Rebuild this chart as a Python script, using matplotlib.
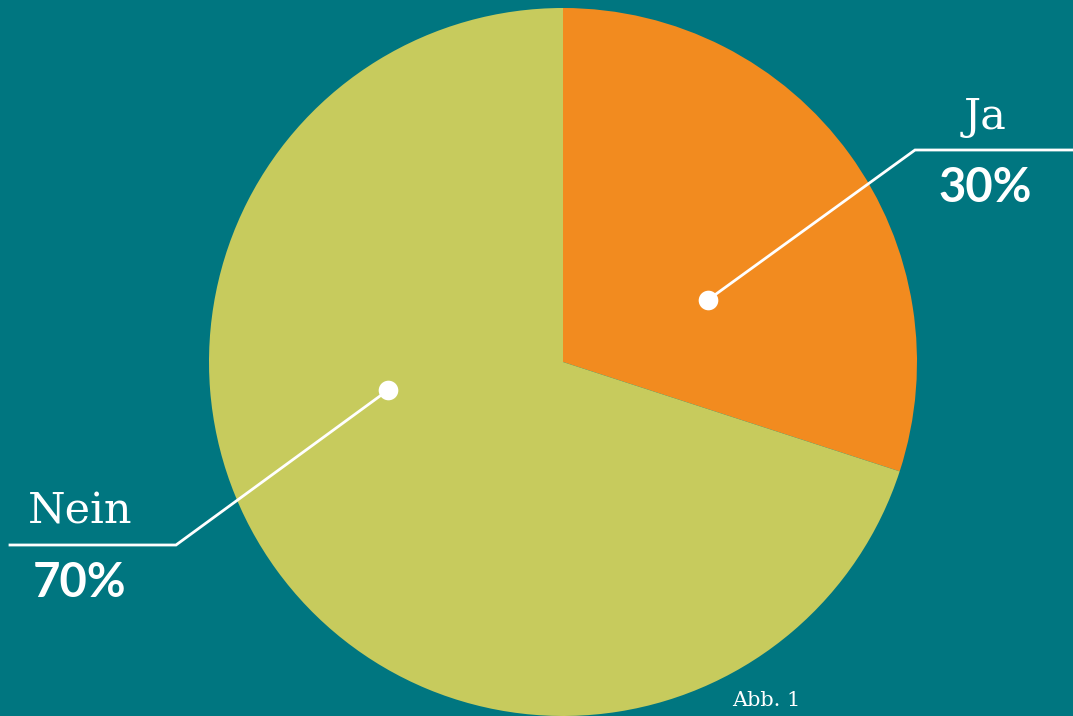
import numpy as np
import matplotlib.pyplot as plt

labels = ['Ja', 'Nein']
values = [30, 70]
colors = ['#F28B1F', '#C7CB5D']
bg = '#007680'

W, H = 1073, 716
fig = plt.figure(figsize=(W / 100, H / 100), dpi=100)
fig.patch.set_facecolor(bg)
ax = fig.add_axes([0, 0, 1, 1])

cx, cy, r = 563, H - 362, 354
ax.pie(values, colors=colors, startangle=90, counterclock=False,
       center=(cx, cy), radius=r, frame=True,
       wedgeprops=dict(linewidth=0))
ax.set_xlim(0, W)
ax.set_ylim(0, H)
ax.set_aspect('equal')
ax.axis('off')

# leader lines: dot inside wedge -> elbow -> horizontal
leaders = [
    # angle, radius fraction, elbow (x, y), end x, text x
    dict(ang=23.2, frac=0.446, elbow=(915, H - 150), end=W, tx=985),
    dict(ang=189.1, frac=0.50, elbow=(176, H - 545), end=10, tx=80),
]
for lab, val, ld in zip(labels, values, leaders):
    a = np.deg2rad(ld['ang'])
    dx = cx + r * ld['frac'] * np.cos(a)
    dy = cy + r * ld['frac'] * np.sin(a)
    ex, ey = ld['elbow']
    ax.plot([dx, ex, ld['end']], [dy, ey, ey], color='white', lw=2,
            solid_joinstyle='miter', zorder=3)
    ax.scatter([dx], [dy], s=200, color='white', zorder=4, linewidths=0)
    ax.text(ld['tx'], ey + 12, lab, ha='center', va='bottom', color='white',
            fontsize=31, family='DejaVu Serif')
    ax.text(ld['tx'], ey - 16, f'{val}%', ha='center', va='top', color='white',
            fontsize=34, family='Lato', fontweight='bold')

ax.text(766, 6, 'Abb. 1', ha='center', va='bottom', color='white',
        fontsize=15, family='DejaVu Serif')

fig.savefig('out.png', dpi=100, facecolor=bg)
